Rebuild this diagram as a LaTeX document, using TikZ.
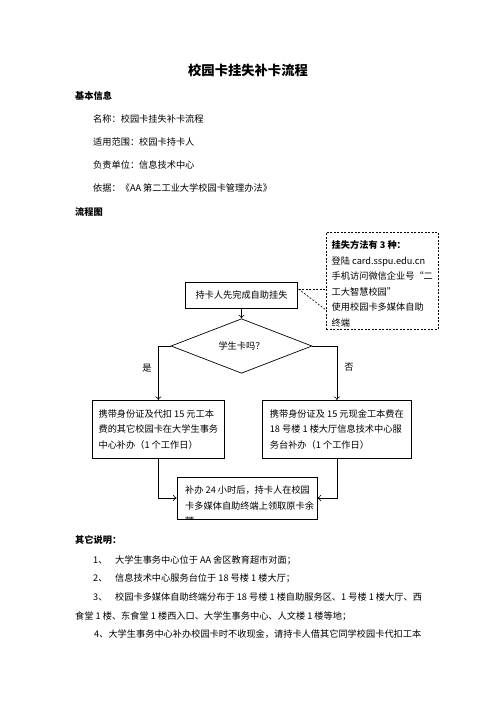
\documentclass[tikz,border=0pt]{standalone}
\usepackage{fontspec}
\setmainfont{Noto Sans CJK SC}
\usetikzlibrary{shapes.geometric,arrows.meta}

\begin{document}
\begin{tikzpicture}[x=1pt,y=-1pt,font=\fontsize{9.2}{15.5}\selectfont,
        every node/.style={inner sep=0pt},
        txt/.style={anchor=west},
        hd/.style={anchor=west,font=\fontsize{9.2}{15.5}\selectfont\bfseries},
        stepbox/.style={draw,line width=0.7pt,align=left},
        notebox/.style={draw,line width=0.6pt,dash pattern=on 2pt off 1.5pt,align=left},
        link/.style={line width=0.6pt,-{To[length=3.5pt,width=6pt]}}]
        \useasboundingbox (0,0) rectangle (496,702);
        \node [font=\fontsize{13.3}{16}\selectfont\bfseries] (title) at (248,70) {校园卡挂失补卡流程};
        \node [hd] (info) at (75,96) {基本信息};
        \node [txt] (name) at (93,119) {名称：校园卡挂失补卡流程};
        \node [txt] (scope) at (93,142) {适用范围：校园卡持卡人};
        \node [txt] (unit) at (93,165) {负责单位：信息技术中心};
        \node [txt] (basis) at (93,188) {依据：《AA 第二工业大学校园卡管理办法》};
        \node [hd] (chart) at (75,212) {流程图};

        \node [stepbox,minimum width=112pt,minimum height=26pt] (start) at (241.5,295) {持卡人先完成自助挂失};
        \node [notebox,minimum width=112pt,minimum height=97pt,anchor=north west] (note) at (326,232)
            {\rule{0pt}{14pt}\textbf{挂失方法有 3 种：}\\登陆 card.sspu.edu.cn\\手机访问微信企业号“二\\工大智慧校园”\\使用校园卡多媒体自助\\终端};
        \coordinate (tip) at (298.5,289);
        \coordinate (n1) at (326,289);
        \coordinate (n2) at (326,310);
        \draw [line width=0.6pt,dash pattern=on 2pt off 1.5pt] (tip) -- (n1);
        \draw [line width=0.6pt,dash pattern=on 2pt off 1.5pt] (tip) -- (n2);
        \node [draw,line width=0.7pt,shape=diamond,minimum width=141pt,minimum height=36pt] (card) at (241.5,346) {学生卡吗？};
        \draw [link] (start) -- (card);

        \node [stepbox,minimum width=132pt,minimum height=58pt,anchor=north west] (yes) at (92,400)
            {携带身份证及代扣 15 元工本\\费的其它校园卡在大学生事务\\中心补办（1 个工作日）};
        \node [stepbox,minimum width=149pt,minimum height=58pt,anchor=north west] (no) at (262,400)
            {携带身份证及 15 元现金工本费在\\18 号楼 1 楼大厅信息技术中心服\\务台补办（1 个工作日）};
        \node (yeslbl) at (147,368) {是};
        \node (nolbl) at (349,367) {否};
        \draw [link] (card.west) -| (yes.north);
        \draw [link] (card.east) -| (no.north);

        \node [stepbox,minimum width=140pt,minimum height=42pt] (done) at (247,498) {};
        \begin{scope}
            \clip (done.north west) rectangle (done.south east);
            \node [align=left,anchor=north west] (donetxt) at (185,486)
                {补办 24 小时后，持卡人在校园\\卡多媒体自助终端上领取原卡余\\额};
        \end{scope}
        \draw [link] (yes.south) |- (done.west);
        \draw [link] (no.south) |- (done.east);

        \node [hd] (other) at (75,540) {其它说明：};
        \node [txt] (l1) at (93,560) {1、\hspace{7.7pt}大学生事务中心位于 AA 舍区教育超市对面；};
        \node [txt] (l2) at (93,578) {2、\hspace{7.7pt}信息技术中心服务台位于 18 号楼 1 楼大厅；};
        \node [txt] (l3) at (93,597) {3、\hspace{7.7pt}校园卡多媒体自助终端分布于 18 号楼 1 楼自助服务区、1 号楼 1 楼大厅、西};
        \node [txt] (l3b) at (75,616) {食堂 1 楼、东食堂 1 楼西入口、大学生事务中心、人文楼 1 楼等地；};
        \node [txt] (l4) at (94,634) {4、大学生事务中心补办校园卡时不收现金，请持卡人借其它同学校园卡代扣工本};
    \end{tikzpicture}
\end{document}
